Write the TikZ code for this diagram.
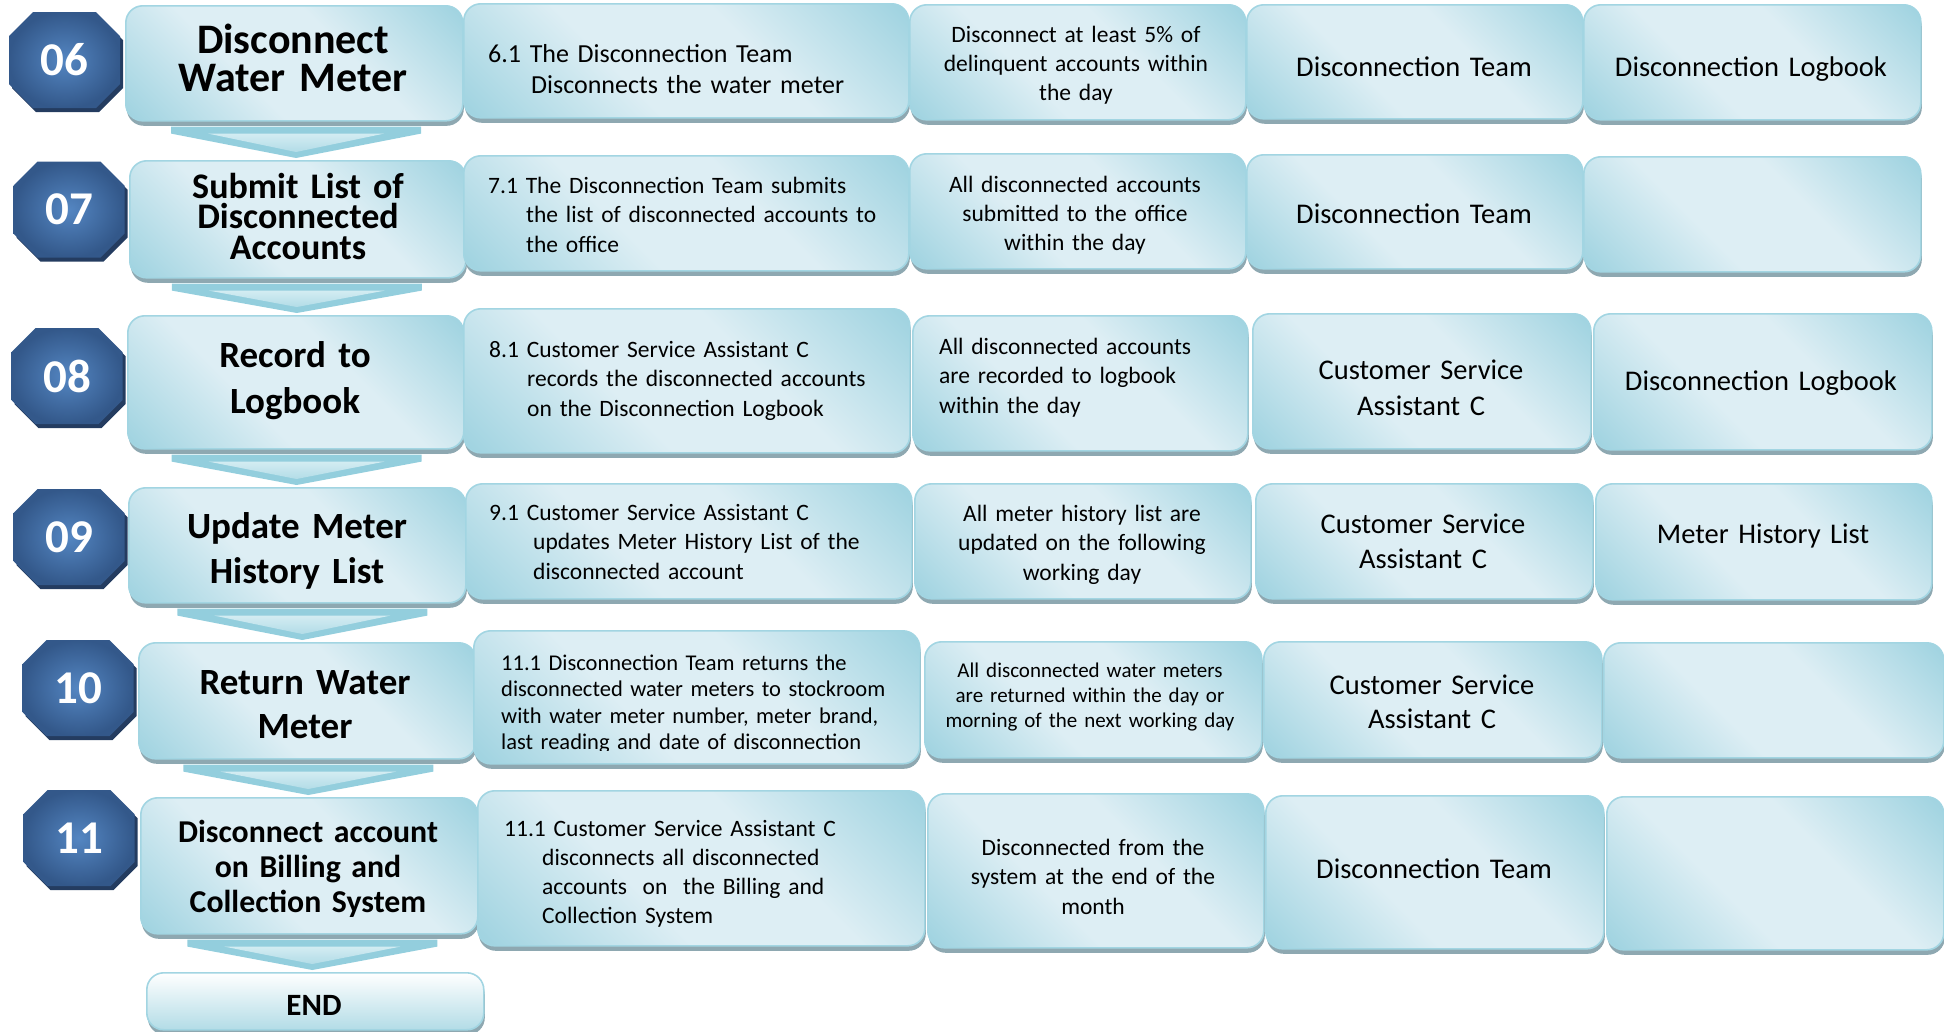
\documentclass[tikz,border=0pt]{standalone}
\usepackage{fontspec}
\setmainfont{Carlito}
\usetikzlibrary{positioning,calc,shadows}

\definecolor{cellDark}{HTML}{92CDDC}
\definecolor{cellLight}{HTML}{DDEEF4}
\definecolor{cellRim}{HTML}{A2D5E2}
\definecolor{cellShadow}{HTML}{8EA8B1}
\definecolor{badgeIn}{HTML}{5486C2}
\definecolor{badgeOut}{HTML}{33588A}
\definecolor{badgeDark}{HTML}{243C60}
\definecolor{arrowOut}{HTML}{93CEDD}
\definecolor{arrowTop}{HTML}{D3ECF2}
\definecolor{arrowBot}{HTML}{B2DCE7}

% dark corners, broad pale band along the diagonal
\pgfdeclareverticalshading{cellshade}{100bp}{color(0bp)=(cellDark); color(10bp)=(cellDark);
  color(40bp)=(cellLight); color(60bp)=(cellLight); color(90bp)=(cellDark); color(100bp)=(cellDark)}

\newcommand{\fsz}[2]{\fontsize{#1}{#2}\selectfont}

\tikzset{
  cell/.style={draw=cellRim, line width=1.6pt, rounded corners=17pt,
    shading=cellshade, shading angle=-45, anchor=north west, inner sep=0pt,
    drop shadow={shadow xshift=1pt, shadow yshift=-5pt, fill=cellShadow, opacity=1}},
  endcell/.style={cell, top color=white, bottom color=cellDark!70, shading angle=0},
  badge/.style={inner color=badgeIn, outer color=badgeOut,
    drop shadow={shadow xshift=3pt, shadow yshift=-4pt, fill=badgeDark, opacity=1}},
  badgenum/.style={font=\bfseries\fsz{47}{47}, text=white, inner sep=0pt},
  steptext/.style={font=\bfseries\fsz#1, text width=330pt, align=center, anchor=base, inner sep=0pt},
  tasktext/.style={font=\fsz#1, text width=440pt, align=left, anchor=base west, inner sep=0pt},
  normtext/.style={font=\fsz#1, text width=330pt, align=center, anchor=base, inner sep=0pt},
  arrowband/.style={fill=arrowOut},
  arrowcore/.style={top color=arrowTop, bottom color=arrowBot},
}

% octagon badge with its number
\newcommand{\badge}[3]{%
  \path[badge] (#2) +(-55.5,-24) -- +(-31.5,-48) -- +(31.5,-48) -- +(55.5,-24)
    -- +(55.5,24) -- +(31.5,48) -- +(-31.5,48) -- +(-55.5,24) -- cycle;
  \node[badgenum] (#1) at (#2) {#3};}

% broad down arrow between two steps
\newcommand{\chevron}[2]{%
  \coordinate (mid) at ($(#1.south)!.5!(#2.north)$);
  \fill[arrowband] ($(mid |- #1.south)+(-125,5)$) -- ($(mid |- #1.south)+(125,5)$)
    -- ($(mid |- #1.south)+(125,12)$) -- ($(mid |- #2.north)+(0,-2)$)
    -- ($(mid |- #1.south)+(-125,12)$) -- cycle;
  \shade[arrowcore] ($(mid |- #1.south)+(-88,12)$) -- ($(mid |- #1.south)+(88,12)$)
    -- ($(mid |- #2.north)+(0,-8)$) -- cycle;}

\begin{document}
\begin{tikzpicture}[x=1pt,y=-1pt]
\useasboundingbox (0,0) rectangle (1944,1031);

% 06
\node[cell, minimum width=337, minimum height=115] (step06) at (125,5) {};
\node[cell, minimum width=445, minimum height=114] (task06) at (463,3) {};
\node[cell, minimum width=336, minimum height=115] (norm06) at (909,4) {};
\node[cell, minimum width=336, minimum height=114] (resp06) at (1246,4) {};
\node[cell, minimum width=337, minimum height=115] (form06) at (1583,4) {};
\node[steptext={{42}{38}}] (step06t) at (293,53) {Disconnect\\Water Meter};
\node[tasktext={{26}{31}}] (task06t) at (488,62) {6.1 The Disconnection Team\\\hspace*{43pt}Disconnects the water meter};
\node[normtext={{23.5}{29}}] (norm06t) at (1076,42) {Disconnect at least 5\% of\\delinquent accounts within\\the day};
\node[normtext={{28.5}{35}}] (resp06t) at (1414,76) {Disconnection Team};
\node[normtext={{28.5}{35}}] (form06t) at (1751,76) {Disconnection Logbook};
\badge{b06}{64.5,60}{06}

% 07
\node[cell, minimum width=336, minimum height=117] (step07) at (129,160) {};
\node[cell, minimum width=445, minimum height=115] (task07) at (463,155) {};
\node[cell, minimum width=336, minimum height=115] (norm07) at (909,153) {};
\node[cell, minimum width=336, minimum height=114] (resp07) at (1246,154) {};
\node[cell, minimum width=337, minimum height=115] (form07) at (1583,156) {};
\node[steptext={{36}{30.5}}] (step07t) at (298,198) {Submit List of\\Disconnected\\Accounts};
\node[tasktext={{23.5}{29.5}}] (task07t) at (488,193) {7.1 The Disconnection Team submits\\\hspace*{38pt}the list of disconnected accounts to\\\hspace*{38pt}the office};
\node[normtext={{23.5}{29}}] (norm07t) at (1075,192) {All disconnected accounts\\submitted to the office\\within the day};
\node[normtext={{28.5}{35}}] (resp07t) at (1414,223) {Disconnection Team};
\badge{b07}{69,209.5}{07}

% 08
\node[cell, minimum width=336, minimum height=133] (step08) at (127,315) {};
\node[cell, minimum width=446, minimum height=144] (task08) at (463,308) {};
\node[cell, minimum width=335, minimum height=135] (norm08) at (912,315) {};
\node[cell, minimum width=338, minimum height=135] (resp08) at (1252,313) {};
\node[cell, minimum width=338, minimum height=136] (form08) at (1593,313) {};
\node[steptext={{37}{46}}] (step08t) at (295,367) {Record to\\Logbook};
\node[tasktext={{23.5}{29.5}}] (task08t) at (489,357) {8.1 Customer Service Assistant C\\\hspace*{38pt}records the disconnected accounts\\\hspace*{38pt}on the Disconnection Logbook};
\node[tasktext={{23.5}{29.5}}] (norm08t) at (939,354) {All disconnected accounts\\are recorded to logbook\\within the day};
\node[normtext={{28.5}{36}}] (resp08t) at (1421,379) {Customer Service\\Assistant C};
\node[normtext={{28.5}{35}}] (form08t) at (1761,390) {Disconnection Logbook};
\badge{b08}{67,376}{08}

% 09
\node[cell, minimum width=337, minimum height=115] (step09) at (128,487) {};
\node[cell, minimum width=446, minimum height=115] (task09) at (465,483) {};
\node[cell, minimum width=336, minimum height=115] (norm09) at (914,483) {};
\node[cell, minimum width=337, minimum height=115] (resp09) at (1255,483) {};
\node[cell, minimum width=336, minimum height=116] (form09) at (1595,483) {};
\node[steptext={{37}{45}}] (step09t) at (297,538) {Update Meter\\History List};
\node[tasktext={{23.5}{29.5}}] (task09t) at (489,520) {9.1 Customer Service Assistant C\\\hspace*{44pt}updates Meter History List of the\\\hspace*{44pt}disconnected account};
\node[normtext={{23.5}{29.5}}] (norm09t) at (1082,521) {All meter history list are\\updated on the following\\working day};
\node[normtext={{28.5}{35}}] (resp09t) at (1423,533) {Customer Service\\Assistant C};
\node[normtext={{28.5}{35}}] (form09t) at (1763,543) {Meter History List};
\badge{b09}{69,537}{09}

% 10
\node[cell, minimum width=337, minimum height=116] (step10) at (138,642) {};
\node[cell, minimum width=446, minimum height=133] (task10) at (473,630) {};
\node[cell, minimum width=337, minimum height=116] (norm10) at (924,641) {};
\node[cell, minimum width=338, minimum height=116] (resp10) at (1263,641) {};
\node[cell, minimum width=340, minimum height=115] (form10) at (1603,642) {};
\node[steptext={{37}{44}}] (step10t) at (305,694) {Return Water\\Meter};
\begin{scope}
  \clip (task10.north west) rectangle ($(task10.south east)+(0,-14)$);
  \node[tasktext={{22.5}{26.5}}] (task10t) at (501,670) {11.1 Disconnection Team returns the\\disconnected water meters to stockroom\\with water meter number, meter brand,\\last reading and date of disconnection};
\end{scope}
\node[normtext={{21}{25}}] (norm10t) at (1090,677) {All disconnected water meters\\are returned within the day or\\morning of the next working day};
\node[normtext={{28.5}{34}}] (resp10t) at (1432,694) {Customer Service\\Assistant C};
\badge{b10}{78,688}{10}

% 11
\node[cell, minimum width=337, minimum height=136] (step11) at (140,797) {};
\node[cell, minimum width=447, minimum height=155] (task11) at (477,790) {};
\node[cell, minimum width=336, minimum height=154] (norm11) at (927,793) {};
\node[cell, minimum width=338, minimum height=153] (resp11) at (1265,795) {};
\node[cell, minimum width=337, minimum height=153] (form11) at (1606,796) {};
\node[steptext={{31.8}{35}}] (step11t) at (308,842) {Disconnect account\\on Billing and\\Collection System};
\node[tasktext={{23.5}{29}}] (task11t) at (504,836) {11.1 Customer Service Assistant C\\\hspace*{38pt}disconnects all disconnected\\\hspace*{38pt}accounts\ \ on\ \ the Billing and\\\hspace*{38pt}Collection System};
\node[normtext={{23.5}{29.5}}] (norm11t) at (1093,855) {Disconnected from the\\system at the end of the\\month};
\node[normtext={{28.5}{35}}] (resp11t) at (1434,878) {Disconnection Team};
\badge{b11}{79,838}{11}

% end of the flow
\node[endcell, minimum width=337, minimum height=57] (end) at (146,972) {};
\node[steptext={{31}{31}}] (endt) at (314,1015) {END};

\chevron{step06}{step07}
\chevron{step07}{step08}
\chevron{step08}{step09}
\chevron{step09}{step10}
\chevron{step10}{step11}
\chevron{step11}{end}
\end{tikzpicture}
\end{document}
